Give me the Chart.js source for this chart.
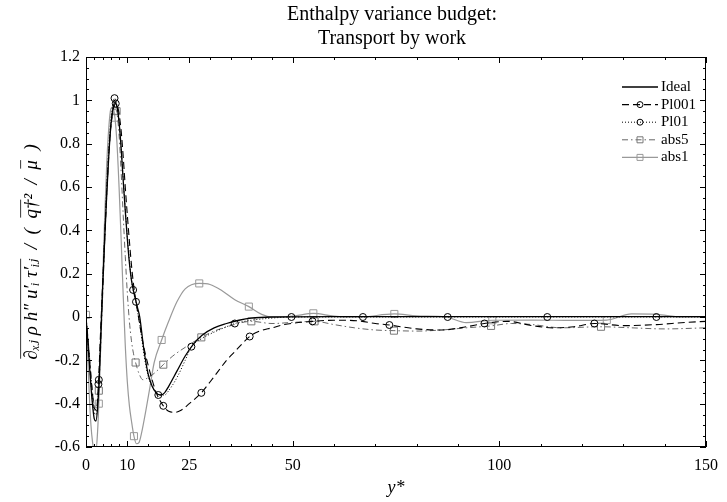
<!DOCTYPE html>
<html>
<head>
<meta charset="utf-8">
<script src="https://cdn.jsdelivr.net/npm/chart.js@4/dist/chart.umd.min.js"></script>
<style>
  html, body { margin: 0; padding: 0; background: #fff; }
  #wrap { width: 727px; height: 502px; }
</style>
</head>
<body>
<div id="wrap"><canvas id="budget"></canvas></div>
<script>
// tick labels
const xMajor = [0, 10, 25, 50, 100, 150];
const xMinor = [2, 4, 6, 8, 15, 20, 30, 35, 40, 45, 60, 70, 80, 90, 110, 120, 130, 140];
const yMajor = [-0.6, -0.4, -0.2, 0, 0.2, 0.4, 0.6, 0.8, 1, 1.2];

// Ideal
const idealX = [0, 0.5, 1, 1.5, 2, 2.4, 2.8, 3.2, 3.6, 4, 4.5, 5, 5.5, 6, 6.5, 7, 7.5, 8, 8.5, 9, 9.5, 10, 10.5, 11, 11.5, 12, 12.5, 13, 14, 15, 16, 17, 18, 19, 20, 22, 24, 26, 28, 31, 34, 37, 40, 45, 60, 80, 100, 120, 150];
const idealY = [0, -0.13, -0.27, -0.39, -0.47, -0.48, -0.42, -0.28, -0.08, 0.12, 0.35, 0.56, 0.74, 0.88, 0.96, 0.99, 0.97, 0.9, 0.78, 0.63, 0.49, 0.36, 0.25, 0.17, 0.12, 0.08, 0.04, 0.0, -0.15, -0.26, -0.32, -0.35, -0.36, -0.35, -0.32, -0.25, -0.18, -0.125, -0.085, -0.05, -0.03, -0.015, -0.005, 0, 0.002, 0.002, 0.002, 0.002, 0.002];

// Pl001
const pl001X = [0, 0.5, 1, 1.5, 2, 2.5, 3, 3.5, 4, 4.5, 5, 5.5, 6, 6.5, 7.2, 7.8, 8.5, 9, 9.5, 10, 10.5, 11, 11.5, 12.1, 12.7, 13.3, 14, 15, 16, 17, 18.7, 20, 21.5, 23, 25, 27.9, 30, 32, 34, 36, 39.6, 42, 45, 48, 54.8, 60, 66, 70, 73.4, 80, 86, 92, 96.4, 102, 108, 113, 118, 123, 130, 138, 145, 150];
const pl001Y = [0, -0.11, -0.23, -0.34, -0.42, -0.43, -0.31, -0.08, 0.14, 0.36, 0.57, 0.75, 0.88, 0.95, 0.985, 0.96, 0.86, 0.74, 0.6, 0.47, 0.35, 0.24, 0.15, 0.07, 0.0, -0.07, -0.14, -0.22, -0.29, -0.35, -0.41, -0.435, -0.44, -0.43, -0.4, -0.35, -0.3, -0.25, -0.2, -0.16, -0.09, -0.065, -0.05, -0.035, -0.02, -0.015, -0.018, -0.03, -0.037, -0.055, -0.06, -0.045, -0.03, -0.02, -0.04, -0.05, -0.045, -0.03, -0.04, -0.035, -0.025, -0.02];
const pl001Marks = [3, 7.2, 12.1, 18.7, 27.9, 39.6, 54.8, 73.4, 96.4, 123];

// Pl01
const pl01X = [0, 0.5, 1, 1.5, 2, 2.4, 2.8, 3.1, 3.6, 4, 4.5, 5, 5.5, 6, 6.5, 6.9, 7.5, 8, 8.5, 9, 9.5, 10, 10.5, 11, 11.4, 12, 12.5, 13, 14, 15, 16, 17.5, 19, 20, 22, 24, 25.5, 28, 31, 34, 36, 40, 45, 49.7, 67, 87.5, 111.6, 138, 150];
const pl01Y = [0, -0.12, -0.25, -0.37, -0.44, -0.45, -0.4, -0.29, -0.06, 0.13, 0.37, 0.6, 0.78, 0.91, 0.98, 1.01, 0.98, 0.9, 0.78, 0.64, 0.5, 0.37, 0.26, 0.17, 0.125, 0.07, 0.02, -0.03, -0.17, -0.27, -0.32, -0.36, -0.36, -0.34, -0.28, -0.2, -0.137, -0.1, -0.07, -0.045, -0.03, -0.015, -0.005, 0.0, 0.0, 0.0, 0.0, 0.0, 0.0];
const pl01Marks = [3.1, 6.9, 11.4, 17.5, 25.5, 36, 49.7, 67, 87.5, 111.6, 138];

// abs5
const abs5X = [0, 0.5, 1, 1.5, 2, 2.5, 3.1, 3.5, 4, 4.5, 5, 5.5, 6, 6.5, 7, 7.4, 8, 8.5, 9, 9.5, 10, 10.5, 11, 11.5, 12, 12.8, 13.8, 15, 16.5, 18.7, 21, 24, 27.9, 31, 35, 40, 45, 50, 55.3, 60, 65, 70, 74.5, 80, 86, 92, 98, 103, 108, 115, 124.6, 132, 140, 150];
const abs5Y = [0, -0.1, -0.22, -0.33, -0.41, -0.42, -0.34, -0.17, 0.08, 0.33, 0.55, 0.74, 0.87, 0.94, 0.96, 0.95, 0.84, 0.67, 0.47, 0.28, 0.11, -0.02, -0.11, -0.17, -0.21, -0.26, -0.29, -0.28, -0.26, -0.22, -0.18, -0.14, -0.094, -0.065, -0.04, -0.02, -0.03, -0.025, -0.02, -0.035, -0.05, -0.06, -0.063, -0.065, -0.06, -0.05, -0.041, -0.03, -0.035, -0.05, -0.045, -0.05, -0.055, -0.05];
const abs5Marks = [3.1, 7.4, 12, 18.7, 27.9, 40, 55.3, 74.5, 98, 124.6];

// abs1
const abs1X = [0, 0.4, 0.8, 1.2, 1.6, 2.0, 2.4, 2.8, 3.1, 3.5, 4, 4.5, 5, 5.5, 6, 6.5, 7, 7.5, 8, 8.5, 9, 9.5, 10, 10.5, 11, 11.6, 12.2, 12.8, 13.5, 14.5, 15.5, 16.5, 18.3, 20, 22, 24, 27.4, 30, 33, 36, 39.4, 42.5, 45, 50, 55, 60, 66, 74.6, 80, 87, 92, 98.3, 108, 118, 126, 132, 138, 144, 150];
const abs1Y = [0.01, -0.18, -0.36, -0.5, -0.58, -0.62, -0.62, -0.53, -0.4, -0.17, 0.15, 0.45, 0.7, 0.87, 0.96, 0.97, 0.92, 0.8, 0.6, 0.36, 0.1, -0.13, -0.3, -0.41, -0.48, -0.55, -0.585, -0.58, -0.53, -0.43, -0.32, -0.21, -0.106, -0.02, 0.07, 0.13, 0.155, 0.15, 0.12, 0.08, 0.048, 0.012, 0.0, 0.004, 0.017, 0.004, 0.0, 0.014, 0.005, 0.0, -0.026, -0.015, -0.014, -0.016, -0.014, 0.014, 0.012, 0.0, 0.0];
const abs1Marks = [0, 3.1, 7, 11.6, 18.3, 27.4, 39.4, 55, 74.6, 98.3, 126];

const SERIF = '"Liberation Serif", "DejaVu Serif", serif';
const Y_TITLE_SIZE = 19;
const Y_TITLE_PAD = 21;
const yTitleParts = [
  { t: '\u2202\u2093\u2C7C \u03C1 h\u2033 u\u2032\u1D62 \u03C4\u2032\u1D62\u2C7C', over: true },
  { t: '  /  (  ', over: false },
  { t: 'q\u2020', over: true },
  { t: '\u00B2  /  ', over: false },
  { t: '\u03BC', over: true },
  { t: '  )', over: false }
];

function pts(xs, ys) { return xs.map((x, i) => ({ x: x, y: ys[i] })); }
function radii(xs, marks, r) { return xs.map(x => marks.includes(x) ? r : 0); }

const clear = 'rgba(0,0,0,0)';

const framePlugin = {
  id: 'frame',
  afterDatasetsDraw(chart) {
    const { ctx, chartArea: a, scales: { x, y } } = chart;
    ctx.save();
    ctx.strokeStyle = '#000';
    ctx.lineWidth = 1;
    ctx.strokeRect(a.left + 0.5, a.top + 0.5, a.right - a.left - 1, a.bottom - a.top - 1);
    ctx.beginPath();
    const tickX = (v, len) => {
      const px = Math.round(x.getPixelForValue(v)) + 0.5;
      ctx.moveTo(px, a.bottom); ctx.lineTo(px, a.bottom - len);
      ctx.moveTo(px, a.top); ctx.lineTo(px, a.top + len);
    };
    const tickY = (v, len) => {
      const py = Math.round(y.getPixelForValue(v)) + 0.5;
      ctx.moveTo(a.left, py); ctx.lineTo(a.left + len, py);
      ctx.moveTo(a.right, py); ctx.lineTo(a.right - len, py);
    };
    xMajor.forEach(v => tickX(v, 6));
    xMinor.forEach(v => tickX(v, 3));
    yMajor.forEach(v => tickY(v, 6));
    for (let k = -12; k <= 24; k++) { if (k % 4 !== 0) tickY(k * 0.05, 3); }
    ctx.stroke();
    ctx.restore();
  }
};

const titlePlugin = {
  id: 'twoLineTitle',
  afterDraw(chart) {
    const { ctx, chartArea: a } = chart;
    const cx = (a.left + a.right) / 2 - 4;
    ctx.save();
    ctx.fillStyle = '#000';
    ctx.font = '20px ' + SERIF;
    ctx.textAlign = 'center';
    ctx.textBaseline = 'middle';
    ctx.fillText('Enthalpy variance budget:', cx, 15);
    ctx.fillText('Transport by work', cx, 39);

    // overlines on the y-axis title
    ctx.font = 'italic ' + Y_TITLE_SIZE + 'px ' + SERIF;
    const full = yTitleParts.map(p => p.t).join('');
    const W = ctx.measureText(full).width;
    const tx = Y_TITLE_SIZE * 1.2 / 2 + Y_TITLE_PAD;
    const ty = (a.top + a.bottom) / 2;
    ctx.translate(tx, ty);
    ctx.rotate(-Math.PI / 2);
    ctx.strokeStyle = '#000';
    ctx.lineWidth = 0.8;
    let pos = -W / 2;
    yTitleParts.forEach(p => {
      const w = ctx.measureText(p.t).width;
      if (p.over) {
        ctx.beginPath();
        ctx.moveTo(pos + 1, -Y_TITLE_SIZE * 0.62);
        ctx.lineTo(pos + w, -Y_TITLE_SIZE * 0.62);
        ctx.stroke();
      }
      pos += w;
    });
    ctx.restore();
  }
};

const legendPlugin = {
  id: 'innerLegend',
  afterDraw(chart) {
    const { ctx } = chart;
    ctx.save();
    chart.data.datasets.forEach((ds, i) => {
      const yy = 87 + i * 17.6;
      ctx.beginPath();
      ctx.strokeStyle = ds.borderColor;
      ctx.lineWidth = ds.borderWidth;
      ctx.setLineDash(ds.borderDash || []);
      ctx.moveTo(622, yy);
      ctx.lineTo(658, yy);
      ctx.stroke();
      ctx.setLineDash([]);
      if (ds.pointStyle) {
        ctx.beginPath();
        ctx.strokeStyle = ds.pointBorderColor;
        ctx.lineWidth = 1;
        if (ds.pointStyle === 'rect') ctx.rect(637, yy - 3, 6, 6);
        else ctx.arc(640, yy, 3, 0, Math.PI * 2);
        ctx.stroke();
      }
      ctx.fillStyle = '#000';
      ctx.font = '15px ' + SERIF;
      ctx.textAlign = 'left';
      ctx.textBaseline = 'middle';
      ctx.fillText(ds.label, 661, yy);
    });
    ctx.restore();
  }
};

new Chart(document.getElementById('budget').getContext('2d'), {
  type: 'line',
  data: {
    datasets: [
      { label: 'Ideal', data: pts(idealX, idealY), borderColor: '#000', borderWidth: 1.3,
        pointRadius: 0, cubicInterpolationMode: 'monotone' },
      { label: 'Pl001', data: pts(pl001X, pl001Y), borderColor: '#000', borderWidth: 1.1, borderDash: [7, 4],
        pointStyle: 'circle', pointRadius: radii(pl001X, pl001Marks, 3.5), pointBorderColor: '#000',
        pointBackgroundColor: clear, pointBorderWidth: 1, cubicInterpolationMode: 'monotone' },
      { label: 'Pl01', data: pts(pl01X, pl01Y), borderColor: '#000', borderWidth: 1, borderDash: [1, 2],
        pointStyle: 'circle', pointRadius: radii(pl01X, pl01Marks, 3.5), pointBorderColor: '#000',
        pointBackgroundColor: clear, pointBorderWidth: 1, cubicInterpolationMode: 'monotone' },
      { label: 'abs5', data: pts(abs5X, abs5Y), borderColor: '#666', borderWidth: 1, borderDash: [6, 3, 1.5, 3],
        pointStyle: 'rect', pointRadius: radii(abs5X, abs5Marks, 5), pointBorderColor: '#777',
        pointBackgroundColor: clear, pointBorderWidth: 1, cubicInterpolationMode: 'monotone' },
      { label: 'abs1', data: pts(abs1X, abs1Y), borderColor: '#999', borderWidth: 1.2,
        pointStyle: 'rect', pointRadius: radii(abs1X, abs1Marks, 5), pointBorderColor: '#999',
        pointBackgroundColor: clear, pointBorderWidth: 1, cubicInterpolationMode: 'monotone' }
    ]
  },
  options: {
    responsive: true,
    maintainAspectRatio: false,
    animation: false,
    events: [],
    layout: { padding: { top: 57, right: 20, left: 0, bottom: 0 } },
    plugins: { legend: { display: false }, title: { display: false }, tooltip: { enabled: false } },
    scales: {
      x: {
        type: 'linear', min: 0, max: 150,
        afterBuildTicks: s => { s.ticks = xMajor.map(v => ({ value: v })); },
        afterFit: s => { s.height = 55; },
        grid: { display: false, drawTicks: false },
        border: { display: false },
        ticks: { color: '#000', padding: 9, maxRotation: 0, font: { family: SERIF, size: 16 } },
        title: { display: true, text: 'y*', color: '#000', padding: { top: 0, bottom: 3 },
                 font: { family: SERIF, size: 18, style: 'italic' } }
      },
      y: {
        type: 'linear', min: -0.6, max: 1.2,
        afterBuildTicks: s => { s.ticks = yMajor.map(v => ({ value: v })); },
        afterFit: s => { s.width = 86; },
        grid: { display: false, drawTicks: false },
        border: { display: false },
        ticks: { color: '#000', padding: 6, font: { family: SERIF, size: 16 },
                 callback: v => String(Math.round(v * 100) / 100) },
        title: { display: true, text: yTitleParts.map(p => p.t).join(''), color: '#000',
                 padding: { top: Y_TITLE_PAD, bottom: 0 },
                 font: { family: SERIF, size: Y_TITLE_SIZE, style: 'italic' } }
      }
    }
  },
  plugins: [framePlugin, titlePlugin, legendPlugin]
});
</script>
</body>
</html>
